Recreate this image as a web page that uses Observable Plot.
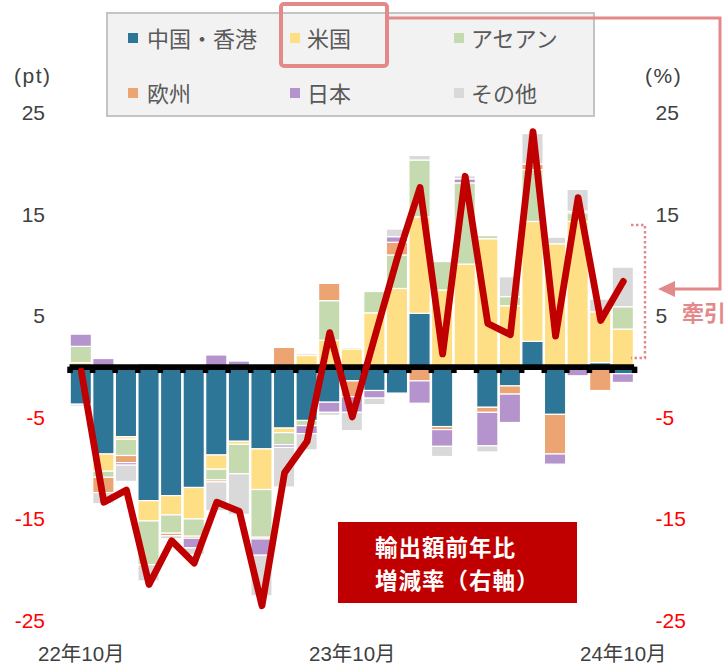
<!DOCTYPE html>
<html><head><meta charset="utf-8">
<script src="https://cdn.jsdelivr.net/npm/d3@7"></script>
<script src="https://cdn.jsdelivr.net/npm/@observablehq/plot@0.6"></script>
<style>
body{margin:0;background:#fff;}
#wrap{position:relative;width:727px;height:666px;overflow:hidden;font-family:'Liberation Sans','Noto Sans CJK JP',sans-serif;color:#505050;}
#wrap svg{position:absolute;left:0;top:0;}
.legend{position:absolute;left:106px;top:12px;width:489px;height:105px;box-sizing:border-box;border:2px solid #c4c4c4;background:#f2f2f2;}
.item{position:absolute;font-size:22px;line-height:26px;color:#595959;white-space:nowrap;font-family:'Noto Sans CJK JP','Liberation Sans',sans-serif;}
.sw{position:absolute;width:10px;height:10px;}
.unit{position:absolute;font-size:21px;line-height:24px;color:#404040;}
.note{position:absolute;left:338px;top:522px;width:239px;height:81px;background:#c00000;}
.nl{position:absolute;left:37px;color:#fff;font-family:'Noto Sans CJK JP',sans-serif;font-weight:bold;font-size:22.5px;line-height:32px;letter-spacing:1px;white-space:nowrap;}
</style></head><body><div id="wrap"></div>
<script>
// ---- data ----
const months = ["2022-10","2022-11","2022-12","2023-01","2023-02","2023-03","2023-04","2023-05","2023-06","2023-07","2023-08","2023-09","2023-10","2023-11","2023-12","2024-01","2024-02","2024-03","2024-04","2024-05","2024-06","2024-07","2024-08","2024-09","2024-10"];
const seriesNames = ["中国・香港","米国","アセアン","欧州","日本","その他"];
const seriesColors = ["#2e7698","#ffdf86","#c5dbaf","#eca473","#b593cc","#d9d9d9"];
const chinaHK = [-3.7,-8.6,-6.9,-13.2,-12.7,-11.9,-8.7,-7.35,-8.1,-6.05,-5.3,-3.5,-1.4,-2.35,-2.6,5.25,-5.9,0,-4.0,-1.9,2.5,-4.7,0,0.4,-0.7];
const us      = [0.4,-1.7,-0.25,-2.0,-1.9,-3.1,-1.4,-0.3,-4.0,-0.45,1.1,2.6,1.75,5.3,7.7,9.5,7.55,10.1,12.6,6.0,11.8,12.1,14.3,5.0,3.7];
const asean   = [1.6,-0.6,-1.6,-4.3,-1.8,-1.7,-1.05,-2.9,-4.7,-1.2,-0.5,3.9,0.15,2.1,3.3,5.6,2.8,8.0,0.3,0.9,5.1,0,0.85,0,2.2];
const europe  = [0,-1.5,-0.7,0,-0.25,-0.2,-0.2,0,-0.17,1.9,0.15,1.7,-1.55,0,1.25,-1.4,-0.3,0,-0.5,-0.8,0.55,-3.9,0.15,-2.35,0];
const japan   = [1.2,0.8,-0.25,0.3,0,-0.95,1.15,0.55,-1.6,-0.25,-0.8,-1.0,-1.55,-0.75,0.55,-2.2,-1.65,0.4,-3.3,-2.8,0,-1.0,-0.9,0,-0.85];
const others  = [-0.2,-1.1,-1.6,-1.6,-0.3,-0.65,-2.85,-4.0,-4.0,-3.9,-1.6,-0.3,-1.8,-0.65,0.75,0.45,-1.0,0.3,-0.6,1.95,3.0,0.65,2.15,1.25,3.9];
const exportRate = [-0.4,-13.3,-12.1,-21.4,-17.1,-19.3,-13.3,-14.2,-23.5,-10.4,-7.3,3.4,-4.9,3.0,10.8,17.7,1.3,18.8,4.3,3.2,23.2,3.05,16.7,4.6,8.45];
const xTickMonths = ["2022-10","2023-10","2024-10"];
const xTickLabels = ["22年10月","23年10月","24年10月"];
const yTicksPos = [5,15,25];
const yTicksNeg = [-5,-15,-25];
const legendText = ["中国・香港","米国","アセアン","欧州","日本","その他"];
const noteLines = ["輸出額前年比","増減率（右軸）"];

// ---- build tables ----
const seriesValues = [chinaHK, us, asean, europe, japan, others];
const rows = [];
seriesNames.forEach((s, k) => months.forEach((m, i) => {
  const v = seriesValues[k][i];
  if (v !== 0) rows.push({month: m, series: s, value: v});
}));
const lineRows = months.map((m, i) => ({month: m, rate: exportRate[i]}));

const W = 727, H = 666, mL = 69.5, mR = 92.9;
const step = (W - mL - mR) / months.length;
const font = "'Liberation Sans','Noto Sans CJK JP',sans-serif";
const fmt = d => String(d);

const chart = Plot.plot({
  width: W, height: H,
  marginTop: 112.8, marginBottom: 45.5, marginLeft: mL, marginRight: mR,
  x: {type: "band", domain: months, paddingInner: 0.06, paddingOuter: 0.03, round: false},
  y: {domain: [-25, 25]},
  color: {domain: seriesNames, range: seriesColors},
  style: {fontFamily: font, background: "transparent", overflow: "visible"},
  marks: [
    Plot.barY(rows, {x: "month", y: "value", fill: "series", stroke: "white", strokeWidth: 1.2}),
    Plot.ruleY([0], {stroke: "black", strokeWidth: 5.7}),
    Plot.ruleX(months, {x: d => d, y1: 0, y2: -0.63, dx: -step / 2, stroke: "black", strokeWidth: 5.5}),
    Plot.ruleX(months.slice(-1), {x: d => d, y1: 0, y2: -0.63, dx: step / 2, stroke: "black", strokeWidth: 5.5}),
    Plot.line(lineRows, {x: "month", y: "rate", stroke: "#c00000", strokeWidth: 6.8, strokeLinejoin: "round", strokeLinecap: "round"}),
    Plot.axisY(yTicksPos, {anchor: "left", tickSize: 0, tickPadding: 25, fill: "#404040", fontSize: 21, label: null, tickFormat: fmt}),
    Plot.axisY(yTicksNeg, {anchor: "left", tickSize: 0, tickPadding: 25, fill: "#ff0000", fontSize: 21, label: null, tickFormat: fmt}),
    Plot.axisY(yTicksPos, {anchor: "right", tickSize: 0, tickPadding: 21, fill: "#404040", fontSize: 21, label: null, tickFormat: fmt}),
    Plot.axisY(yTicksNeg, {anchor: "right", tickSize: 0, tickPadding: 21, fill: "#ff0000", fontSize: 21, label: null, tickFormat: fmt}),
    Plot.axisX(xTickMonths, {anchor: "bottom", tickSize: 0, tickPadding: 25, fill: "#404040", fontSize: 20.5, label: null,
      tickFormat: d => xTickLabels[xTickMonths.indexOf(d)]})
  ]
});

const wrap = document.getElementById("wrap");
wrap.appendChild(chart);

// legend
const lg = document.createElement("div");
lg.className = "legend";
wrap.appendChild(lg);
const colX = [[128, 147], [290, 307], [454, 471]];
const rowY = [38, 93];
legendText.forEach((t, k) => {
  const r = Math.floor(k / 3), c = k % 3;
  const sw = document.createElement("div");
  sw.className = "sw";
  sw.style.left = colX[c][0] + "px";
  sw.style.top = (rowY[r] - 5) + "px";
  sw.style.background = seriesColors[k];
  wrap.appendChild(sw);
  const tx = document.createElement("div");
  tx.className = "item";
  tx.style.left = colX[c][1] + "px";
  tx.style.top = (rowY[r] - 14) + "px";
  tx.textContent = t;
  wrap.appendChild(tx);
});

// unit labels
[["(pt)", 14], ["(%)", 645]].forEach(([t, x]) => {
  const u = document.createElement("div");
  u.className = "unit";
  u.style.left = x + "px";
  u.style.top = "64px";
  u.style.letterSpacing = "1.5px";
  u.textContent = t;
  wrap.appendChild(u);
});

// note box
const note = document.createElement("div");
note.className = "note";
noteLines.forEach((t, k) => {
  const l = document.createElement("div");
  l.className = "nl";
  l.style.top = (8 + k * 33) + "px";
  l.textContent = t;
  note.appendChild(l);
});
wrap.appendChild(note);

// annotations
const ns = "http://www.w3.org/2000/svg";
const ov = document.createElementNS(ns, "svg");
ov.setAttribute("width", W); ov.setAttribute("height", H);
ov.innerHTML = `
 <rect x="281" y="4" width="106" height="62" rx="3" fill="none" stroke="#e4898a" stroke-width="4"/>
 <polyline points="387,18 720,18 720,289 673,289" fill="none" stroke="#e4898a" stroke-width="3"/>
 <polygon points="658,289 675,281 675,297" fill="#e4898a"/>
 <path d="M631,225 H645 V358 H631" fill="none" stroke="#e4898a" stroke-width="2.5" stroke-dasharray="2.5 2.5"/>
 <text x="682" y="311" dominant-baseline="central" font-size="22" font-weight="bold" fill="#e4898a" font-family="'Noto Sans CJK JP',sans-serif">牽引</text>`;
wrap.appendChild(ov);
</script></body></html>
